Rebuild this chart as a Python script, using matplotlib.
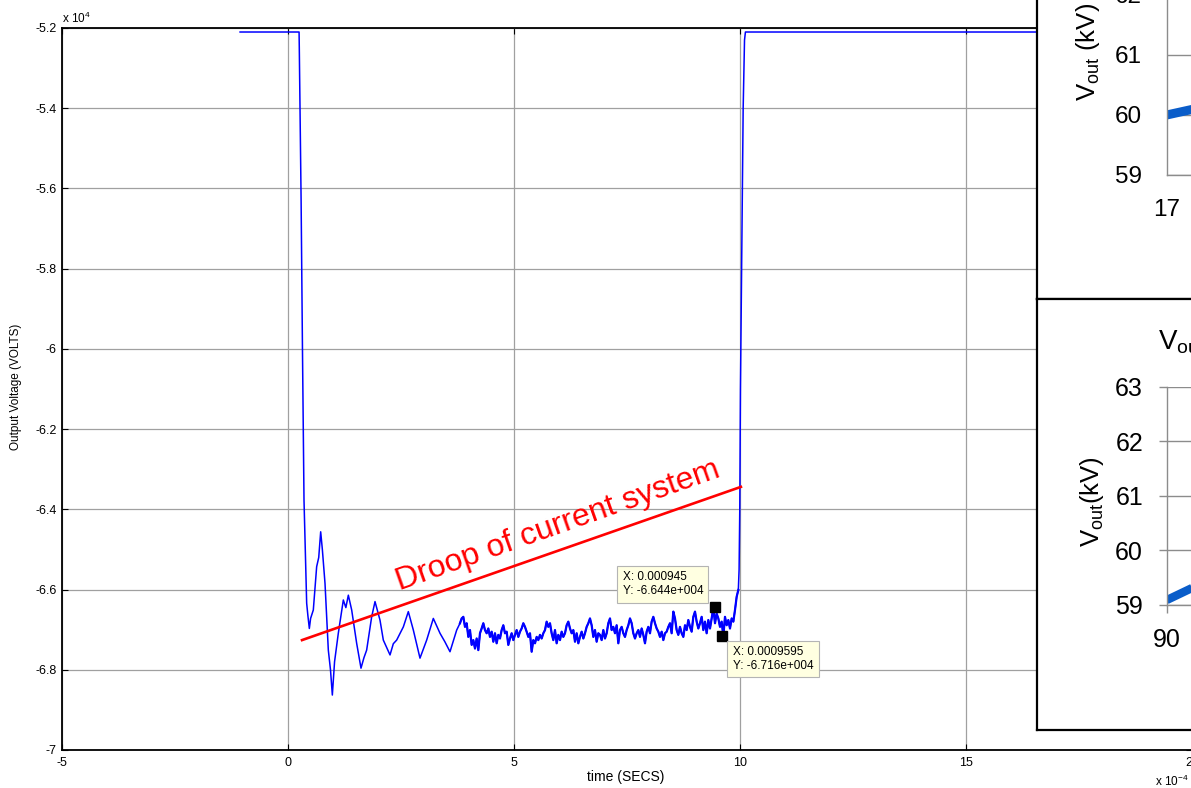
import numpy as np
import matplotlib.pyplot as plt

plt.rcParams["font.family"] = ["Liberation Sans", "DejaVu Sans"]
plt.rcParams["mathtext.fontset"] = "custom"
plt.rcParams["mathtext.rm"] = "Liberation Sans"
plt.rcParams["axes.unicode_minus"] = False

W, H = 1191, 788

# main trace: time in 1e-4 s, voltage in 1e4 V
t_fall = [-1.06, 0.245, 0.25, 0.29, 0.32, 0.354, 0.413, 0.44, 0.472, 0.50, 0.560,
          0.634, 0.68, 0.723, 0.76, 0.819, 0.892, 0.94, 0.981, 1.03, 1.113, 1.224,
          1.28, 1.335, 1.409, 1.519, 1.615, 1.68, 1.740, 1.851, 1.925, 2.035, 2.109,
          2.257, 2.33, 2.404, 2.552, 2.662, 2.773, 2.920, 3.068, 3.215, 3.363, 3.47,
          3.584, 3.732]
v_fall = [-5.21, -5.21, -5.25, -5.63, -6.0, -6.377, -6.634, -6.665, -6.697, -6.672, -6.651,
          -6.543, -6.52, -6.456, -6.50, -6.585, -6.751, -6.80, -6.863, -6.78, -6.709, -6.626,
          -6.645, -6.614, -6.651, -6.734, -6.796, -6.77, -6.751, -6.668, -6.630, -6.676, -6.726,
          -6.763, -6.735, -6.726, -6.693, -6.655, -6.701, -6.771, -6.726, -6.672, -6.709, -6.73,
          -6.755, -6.701]

v_noise = [-6.684, -6.672, -6.668, -6.693, -6.684, -6.718, -6.701, -6.738, -6.726, -6.747,
           -6.722, -6.751, -6.709, -6.697, -6.684, -6.701, -6.709, -6.697, -6.718, -6.705,
           -6.730, -6.709, -6.734, -6.713, -6.722, -6.701, -6.689, -6.709, -6.705, -6.738,
           -6.722, -6.709, -6.726, -6.713, -6.701, -6.718, -6.705, -6.697, -6.684, -6.693,
           -6.705, -6.718, -6.709, -6.755, -6.726, -6.734, -6.718, -6.726, -6.713, -6.722,
           -6.709, -6.701, -6.680, -6.693, -6.684, -6.709, -6.726, -6.701, -6.734, -6.713,
           -6.726, -6.705, -6.718, -6.709, -6.689, -6.680, -6.697, -6.709, -6.701, -6.730,
           -6.709, -6.734, -6.718, -6.705, -6.722, -6.709, -6.693, -6.684, -6.672, -6.689,
           -6.718, -6.701, -6.730, -6.709,
           -6.713, -6.726, -6.701, -6.722, -6.709, -6.684, -6.672, -6.701, -6.693, -6.709,
           -6.689, -6.734, -6.701, -6.693, -6.709, -6.718, -6.701, -6.689, -6.672, -6.684,
           -6.709, -6.722, -6.709, -6.701, -6.718, -6.697, -6.713, -6.734, -6.705, -6.693,
           -6.709, -6.680, -6.668, -6.684, -6.697, -6.705, -6.718, -6.705, -6.726, -6.709,
           -6.705, -6.693, -6.684, -6.709, -6.655, -6.672, -6.701, -6.713, -6.693, -6.709,
           -6.718, -6.689, -6.701, -6.676, -6.693, -6.705, -6.668, -6.655, -6.680, -6.697,
           -6.684, -6.668, -6.701, -6.680, -6.709, -6.676, -6.697, -6.672, -6.645, -6.684,
           -6.660, -6.672, -6.693, -6.680, -6.716, -6.668, -6.689, -6.676, -6.697, -6.672,
           -6.680, -6.651, -6.618, -6.601]
# sampled on an even time base
t_noise = np.linspace(3.805, 9.963, len(v_noise))

t_rise = [9.98, 9.995, 10.01, 10.04, 10.07, 10.10, 10.12, 20.5]
v_rise = [-6.55, -6.40, -6.10, -5.75, -5.40, -5.23, -5.21, -5.21]

droop_t = [0.31, 10.02]
droop_v = [-6.726, -6.344]

tips_t = [9.45, 9.595]
tips_v = [-6.644, -6.716]

x_ticks = [-5, 0, 5, 10, 15, 20]
y_ticks = [-5.2, -5.4, -5.6, -5.8, -6.0, -6.2, -6.4, -6.6, -6.8, -7.0]
y_labels = ["-5.2", "-5.4", "-5.6", "-5.8", "-6", "-6.2", "-6.4", "-6.6", "-6.8", "-7"]

# pasted insets (kV)
in1_ticks = [59, 60, 61, 62]
in1_t = [17.0, 17.3]
in1_v = [60.0, 60.22]
in2_ticks = [59, 60, 61, 62, 63]
in2_t = [90, 92]
in2_v = [59.09, 59.44]
in_blue = "#0a5dc9"


def fx(px):
    return px / W


def fy(py):
    return 1 - py / H


fig = plt.figure(figsize=(W / 100, H / 100), dpi=100)
ax = fig.add_axes([fx(62), fy(750), (1192 - 62) / W, (750 - 28) / H])

t = np.concatenate([t_fall, t_noise, t_rise])
v = np.concatenate([v_fall, v_noise, v_rise])
ax.plot(t, v, color="#0000ff", lw=1.1, zorder=3)
# the noisy stretch looks heavier in the original
ax.plot(t_noise, v_noise, color="#0000ff", lw=1.6, zorder=3)
ax.plot(droop_t, droop_v, color="#ff0000", lw=1.9, zorder=4)
ax.text(2.48, -6.603, "Droop of current system", color="#ff0000", fontsize=23,
        rotation=19.5, rotation_mode="anchor", ha="left", va="baseline", zorder=4)

ax.set_xlim(-5, 20)
ax.set_ylim(-7, -5.2)
ax.set_xticks(x_ticks)
ax.set_xticklabels([str(x) for x in x_ticks])
ax.set_yticks(y_ticks)
ax.set_yticklabels(y_labels)
ax.grid(True, color="#a0a0a0", lw=0.9, ls="-")
ax.set_axisbelow(True)
ax.tick_params(direction="in", top=True, right=True, length=4, width=0.8, labelsize=9)
ax.tick_params(axis="y", pad=4)
ax.tick_params(axis="x", pad=5)
for s in ax.spines.values():
    s.set_linewidth(1.3)

fig.text(fx(16), fy(387), "Output Voltage (VOLTS)", rotation=90, ha="center", va="center", fontsize=8.5)
fig.text(fx(626), fy(777), "time (SECS)", ha="center", va="center", fontsize=10)
fig.text(fx(62), fy(23), r"x 10$^{4}$", ha="left", va="baseline", fontsize=8.5)
fig.text(fx(1155), fy(786), r"x 10$^{-4}$", ha="left", va="baseline", fontsize=8.5)

# data tips
ax.plot(tips_t, tips_v, "s", color="k", ms=6.5, zorder=6)
tip_box = dict(boxstyle="square,pad=0.45", fc="#ffffe1", ec="#b4b4b4", lw=0.8)
offsets = [(-12, 10, "right", "bottom"), (11, -10, "left", "top")]
for tt, vv, (dx, dy, ha, va) in zip(tips_t, tips_v, offsets):
    label = "X: %s\nY: %.3fe+004" % (("%.7g" % (tt * 1e-4)), vv)
    ax.annotate(label, xy=(tt, vv), xytext=(dx, dy), textcoords="offset pixels",
                ha=ha, va=va, multialignment="left", fontsize=8.5, linespacing=1.2,
                bbox=tip_box, zorder=7)

# pasted boxes on the right
for top, bot in [(-300, 299), (299, 730)]:
    b = fig.add_axes([fx(1037), fy(bot), 0.2, (bot - top) / H])
    b.set_xticks([])
    b.set_yticks([])
    for s in b.spines.values():
        s.set_linewidth(1.6)
        s.set_color("black")

in1 = fig.add_axes([fx(1166.7), fy(175), 200 / W, 180 / H])
in1.plot(in1_t, in1_v, color=in_blue, lw=6.5, solid_capstyle="butt")
in1.set_xlim(17, 18)
in1.set_ylim(59, 62)
in1.set_yticks(in1_ticks)
in1.set_xticks([17])
in1.tick_params(length=0, labelsize=17.5)
in1.tick_params(axis="y", pad=18)
in1.tick_params(axis="x", pad=17)
in1.grid(True, axis="y", color="#8c8c8c", lw=1.0)
in1.set_axisbelow(True)
in1.patch.set_alpha(0)
for k in ["top", "right"]:
    in1.spines[k].set_visible(False)
for k in ["left", "bottom"]:
    in1.spines[k].set_color("#8c8c8c")
    in1.spines[k].set_linewidth(1.0)
fig.text(fx(1088), fy(52), r"V$_{\mathrm{out}}$ (kV)", rotation=90, ha="center", va="center", fontsize=18.5)

in2 = fig.add_axes([fx(1166.7), fy(605), 200 / W, 218.3 / H])
in2.plot(in2_t, in2_v, color=in_blue, lw=6, solid_capstyle="butt")
in2.set_xlim(90, 100)
in2.set_ylim(59, 63)
in2.set_yticks(in2_ticks)
in2.set_xticks([90])
in2.tick_params(direction="out", length=5.5, width=1.0, color="#8c8c8c", labelsize=18)
in2.tick_params(axis="y", pad=11.5)
in2.tick_params(axis="x", pad=11)
in2.grid(True, axis="y", color="#8c8c8c", lw=1.0)
in2.set_axisbelow(True)
in2.patch.set_alpha(0)
for k in ["top", "right"]:
    in2.spines[k].set_visible(False)
for k in ["left", "bottom"]:
    in2.spines[k].set_color("#8c8c8c")
    in2.spines[k].set_linewidth(1.0)
fig.text(fx(1091.7), fy(502), r"V$_{\mathrm{out}}$(kV)", rotation=90, ha="center", va="center", fontsize=18.5)
fig.text(fx(1158), fy(349), r"V$_{\mathrm{out}}$ (kV)", ha="left", va="baseline", fontsize=20)

fig.savefig("out.png", dpi=100)
